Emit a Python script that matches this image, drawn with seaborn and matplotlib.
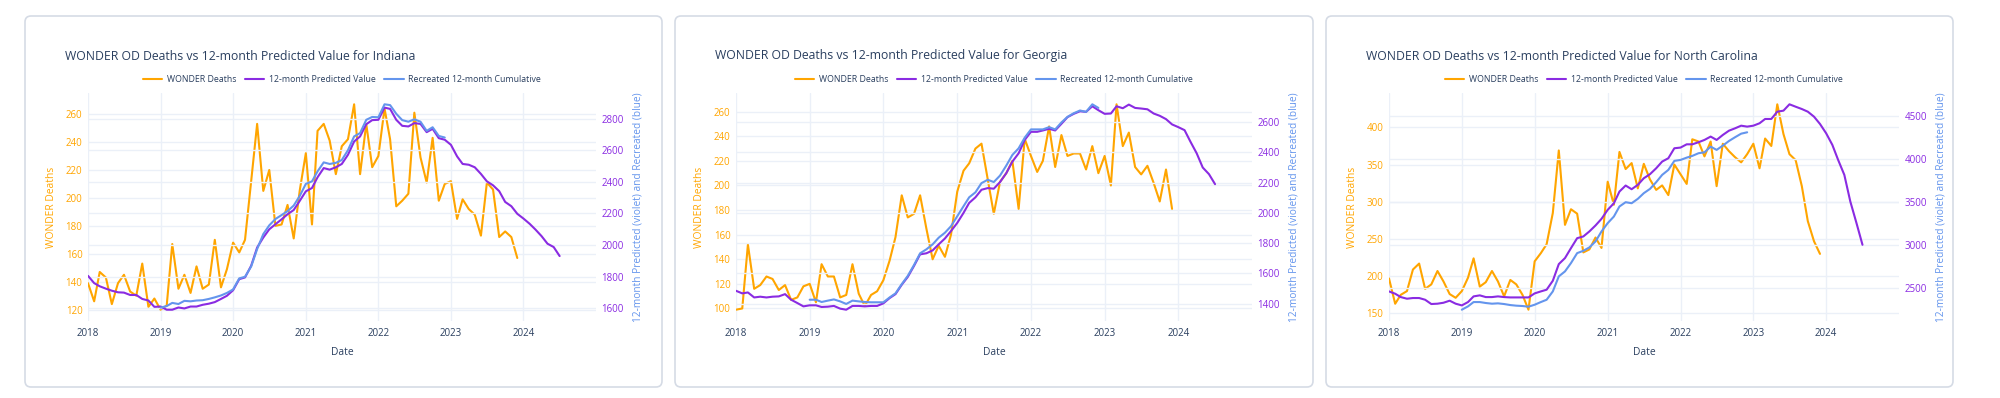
import pandas as pd
import matplotlib.pyplot as plt
import seaborn as sns
from matplotlib.patches import FancyBboxPatch
from matplotlib.ticker import MultipleLocator
from matplotlib.lines import Line2D

# monthly dates: deaths 2018-01..2023-12, predicted 2018-01..2024-07, recreated 2019-01..2022-12
deaths_dates = pd.date_range('2018-01-01', periods=72, freq='MS')
predicted_dates = pd.date_range('2018-01-01', periods=79, freq='MS')
recreated_dates = pd.date_range('2019-01-01', periods=48, freq='MS')

states = ['Indiana', 'Georgia', 'North Carolina']

indiana_deaths = [139, 126, 147, 143, 124, 139, 145, 133, 130, 153, 122, 128,
                  120, 123, 167, 135, 145, 132, 151, 135, 138, 170, 136, 149,
                  168, 161, 170, 212, 253, 205, 220, 180, 181, 195, 171, 205,
                  232, 181, 248, 253, 241, 217, 237, 242, 267, 217, 253, 222,
                  230, 264, 242, 194, 198, 203, 261, 229, 211, 243, 198, 210,
                  212, 185, 199, 192, 188, 173, 211, 206, 172, 176, 172, 157]
indiana_predicted = [1806, 1760, 1740, 1725, 1712, 1702, 1700, 1685, 1685, 1660, 1650, 1610,
                     1612, 1592, 1592, 1606, 1600, 1612, 1612, 1623, 1630, 1640, 1660, 1680,
                     1715, 1785, 1796, 1870, 1985, 2048, 2100, 2132, 2163, 2195, 2222, 2279,
                     2340, 2361, 2429, 2487, 2477, 2492, 2513, 2571, 2655, 2687, 2764, 2790,
                     2792, 2869, 2861, 2792, 2754, 2750, 2771, 2766, 2714, 2735, 2676, 2666,
                     2634, 2561, 2513, 2508, 2492, 2450, 2403, 2378, 2341, 2273, 2246, 2198,
                     2168, 2135, 2099, 2057, 2009, 1988, 1931]
indiana_recreated = [1605, 1615, 1635, 1628, 1648, 1645, 1650, 1652, 1660, 1670, 1682, 1698,
                     1720, 1790, 1800, 1865, 1975, 2070, 2125, 2165, 2190, 2215, 2250, 2310,
                     2387, 2403, 2466, 2523, 2513, 2520, 2538, 2600, 2687, 2708, 2792, 2810,
                     2808, 2890, 2885, 2830, 2790, 2780, 2795, 2780, 2722, 2745, 2690, 2680]

georgia_deaths = [99, 100, 152, 116, 119, 126, 124, 115, 119, 107, 109, 118,
                  120, 105, 136, 126, 126, 109, 111, 136, 112, 102, 111, 114,
                  123, 139, 158, 192, 174, 177, 192, 165, 140, 151, 142, 160,
                  195, 212, 218, 230, 234, 205, 177, 203, 210, 220, 181, 238,
                  224, 211, 220, 248, 215, 241, 224, 226, 226, 213, 232, 210,
                  224, 200, 266, 232, 243, 215, 209, 216, 202, 187, 213, 181]
georgia_predicted = [1485, 1468, 1474, 1441, 1446, 1441, 1446, 1448, 1463, 1426, 1404, 1382,
                     1389, 1389, 1378, 1380, 1385, 1367, 1360, 1385, 1385, 1382, 1385, 1385,
                     1402, 1437, 1463, 1525, 1577, 1650, 1726, 1733, 1752, 1792, 1831, 1880,
                     1934, 2000, 2066, 2103, 2153, 2164, 2160, 2204, 2263, 2339, 2394, 2482,
                     2536, 2536, 2545, 2556, 2545, 2589, 2633, 2655, 2672, 2668, 2705, 2679,
                     2655, 2657, 2705, 2692, 2716, 2694, 2690, 2685, 2657, 2642, 2620, 2585,
                     2567, 2547, 2471, 2394, 2300, 2256, 2190]
georgia_recreated = [1426, 1426, 1411, 1420, 1428, 1415, 1398, 1420, 1415, 1411, 1409, 1409,
                     1409, 1441, 1468, 1529, 1584, 1656, 1733, 1759, 1792, 1836, 1869, 1912,
                     1978, 2044, 2103, 2136, 2197, 2219, 2204, 2247, 2313, 2383, 2427, 2497,
                     2552, 2552, 2552, 2567, 2552, 2598, 2635, 2659, 2677, 2668, 2718, 2694]

nc_deaths = [197, 163, 175, 180, 209, 217, 183, 189, 207, 193, 176, 171,
             180, 198, 224, 186, 192, 207, 193, 173, 195, 189, 175, 155,
             220, 231, 243, 285, 369, 269, 290, 284, 232, 236, 252, 238,
             327, 296, 367, 344, 352, 318, 351, 330, 316, 322, 309, 350,
             337, 324, 384, 381, 361, 381, 321, 378, 368, 360, 353, 364,
             378, 345, 385, 375, 431, 391, 364, 356, 321, 274, 247, 230]
nc_predicted = [2461, 2434, 2395, 2376, 2384, 2384, 2364, 2314, 2318, 2329, 2353, 2318,
                2298, 2337, 2403, 2415, 2395, 2395, 2403, 2395, 2391, 2391, 2391, 2391,
                2438, 2461, 2481, 2585, 2779, 2849, 2965, 3081, 3101, 3159, 3229, 3306,
                3411, 3488, 3624, 3694, 3651, 3702, 3779, 3826, 3895, 3973, 4012, 4128,
                4136, 4174, 4174, 4198, 4225, 4264, 4225, 4283, 4333, 4360, 4391, 4380,
                4391, 4419, 4469, 4469, 4554, 4566, 4640, 4612, 4585, 4554, 4496, 4411,
                4302, 4167, 3992, 3818, 3508, 3256, 3004]
nc_recreated = [2248, 2287, 2337, 2337, 2326, 2318, 2322, 2314, 2302, 2295, 2291, 2283,
                2306, 2337, 2364, 2461, 2636, 2694, 2791, 2907, 2934, 2973, 3043, 3159,
                3256, 3333, 3450, 3500, 3488, 3539, 3605, 3655, 3733, 3818, 3876, 3981,
                3992, 4019, 4039, 4070, 4081, 4147, 4109, 4159, 4213, 4256, 4298, 4314]

deaths = [indiana_deaths, georgia_deaths, nc_deaths]
predicted = [indiana_predicted, georgia_predicted, nc_predicted]
recreated = [indiana_recreated, georgia_recreated, nc_recreated]
left_steps = [20, 20, 50]
right_steps = [200, 200, 500]
legend_labels = ['WONDER Deaths', '12-month Predicted Value', 'Recreated 12-month Cumulative']

ORANGE = '#FFA500'
VIOLET = '#8A2BE2'
BLUE = '#6495ED'
TEXT = '#2a3f5f'
GRID = '#EBF0F8'

sns.set_theme(style='white')
plt.rcParams['font.family'] = ['Open Sans', 'DejaVu Sans']

W, H = 2000, 398
fig = plt.figure(figsize=(W / 100, H / 100), dpi=100)

# pixel layout (card box, plot box) for each panel
cards = [(25, 662), (675, 1313), (1326, 1953)]
plots = [(88, 596), (736, 1252), (1389, 1899)]
card_top, card_bot = 16, 387
plot_top, plot_bot = 93, 321

for i, state in enumerate(states):
    cx0, cx1 = cards[i]
    card = FancyBboxPatch((cx0 / W, 1 - card_bot / H), (cx1 - cx0) / W, (card_bot - card_top) / H,
                          boxstyle='round,pad=0,rounding_size=0.003', mutation_aspect=W / H,
                          transform=fig.transFigure, facecolor='white', edgecolor='#d5dbe5',
                          linewidth=1.2, zorder=-5)
    fig.patches.append(card)

    px0, px1 = plots[i]
    ax = fig.add_axes([px0 / W, 1 - plot_bot / H, (px1 - px0) / W, (plot_bot - plot_top) / H])
    ax2 = ax.twinx()
    ax.patch.set_visible(False)
    ax2.patch.set_visible(False)

    sns.lineplot(x=deaths_dates, y=deaths[i], ax=ax, color=ORANGE, linewidth=1.5)
    sns.lineplot(x=predicted_dates, y=predicted[i], ax=ax2, color=VIOLET, linewidth=1.5)
    sns.lineplot(x=recreated_dates, y=recreated[i], ax=ax2, color=BLUE, linewidth=1.5)

    ax.set_xlim(pd.Timestamp('2018-01-01'), pd.Timestamp('2024-12-31'))
    ax.margins(y=0.055)
    ax2.margins(y=0.055)
    ax.yaxis.set_major_locator(MultipleLocator(left_steps[i]))
    ax2.yaxis.set_major_locator(MultipleLocator(right_steps[i]))
    ax.set_xticks(pd.date_range('2018-01-01', '2024-01-01', freq='YS'))
    ax.set_xticklabels([str(y) for y in range(2018, 2025)])

    for a in (ax, ax2):
        a.grid(True, axis='y', color=GRID, linewidth=1)
        a.set_axisbelow(True)
        for s in a.spines.values():
            s.set_visible(False)
    ax.grid(True, axis='x', color=GRID, linewidth=1)

    ax.tick_params(axis='x', length=0, pad=5, labelsize=7, labelcolor=TEXT)
    ax.tick_params(axis='y', length=0, pad=4, labelsize=7, labelcolor=ORANGE)
    ax2.tick_params(axis='y', length=0, pad=4, labelsize=7, labelcolor=VIOLET)

    ax.set_xlabel('Date', fontsize=7.4, color=TEXT, labelpad=6)
    ax.set_ylabel('WONDER Deaths', fontsize=7.4, color=ORANGE, labelpad=6)
    ax2.set_ylabel('12-month Predicted (violet) and Recreated (blue)', fontsize=7.3, color=BLUE, labelpad=6)

    fig.text((cx0 + 40) / W, 1 - 56 / H,
             f'WONDER OD Deaths vs 12-month Predicted Value for {state}',
             fontsize=8.8, color=TEXT, ha='left', va='center')

    handles = [Line2D([], [], color=c, linewidth=1.5) for c in (ORANGE, VIOLET, BLUE)]
    fig.legend(handles, legend_labels, loc='center', ncol=3, frameon=False,
               bbox_to_anchor=((px0 + px1) / 2 / W, 1 - 80 / H),
               fontsize=6.3, labelcolor=TEXT, handlelength=2.2, handletextpad=0.5,
               columnspacing=1.0)

fig.savefig('out.png', dpi=100, facecolor='white')
